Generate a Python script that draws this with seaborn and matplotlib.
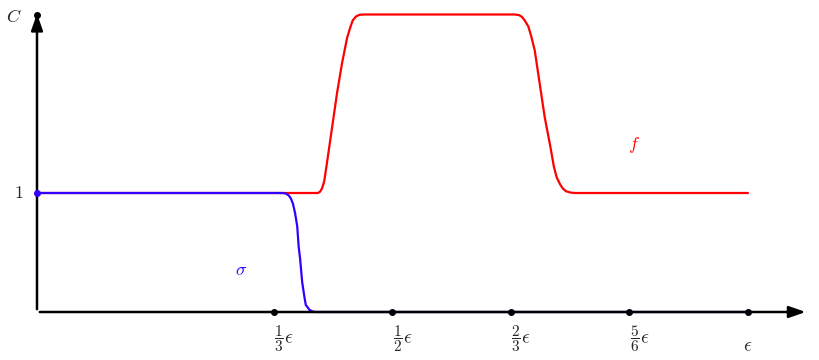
import numpy as np
import pandas as pd
import matplotlib
matplotlib.use("Agg")
import matplotlib.pyplot as plt
import seaborn as sns

# values, x in units of epsilon
f_x = [0.0, 0.391, 0.395, 0.398, 0.401, 0.404, 0.408, 0.415, 0.422, 0.429, 0.436, 0.440,
       0.444, 0.449, 0.454, 0.460,
       0.672, 0.678, 0.682, 0.686, 0.691, 0.695, 0.700, 0.707, 0.714, 0.722, 0.727,
       0.731, 0.736, 0.740, 0.744, 0.750, 0.757, 1.0]
f_y = [1.0, 1.0, 1.0, 1.01, 1.04, 1.10, 1.26, 1.55, 1.84, 2.09, 2.30, 2.38,
       2.45, 2.485, 2.498, 2.5,
       2.5, 2.495, 2.48, 2.45, 2.40, 2.32, 2.20, 1.92, 1.64, 1.39, 1.22,
       1.13, 1.07, 1.035, 1.015, 1.004, 1.0, 1.0]

sigma_x = [0.0, 0.346, 0.350, 0.354, 0.357, 0.360, 0.363, 0.366, 0.368, 0.370, 0.373,
           0.376, 0.378, 0.383, 0.387, 0.392, 1.0]
sigma_y = [1.0, 1.0, 0.995, 0.98, 0.955, 0.91, 0.83, 0.72, 0.55, 0.45, 0.25,
           0.13, 0.06, 0.02, 0.005, 0.0, 0.0]

tick_pos = [1 / 3, 1 / 2, 2 / 3, 5 / 6, 1.0]
tick_fracs = [r"$\dfrac{1}{3}$", r"$\dfrac{1}{2}$", r"$\dfrac{2}{3}$", r"$\dfrac{5}{6}$", ""]

red = "#ff0000"
blue = "#3300ff"

sns.set_style("white")
plt.rcParams["mathtext.fontset"] = "cm"

fig = plt.figure(figsize=(8.2, 3.6), dpi=100)
ax = fig.add_axes([0, 0, 1, 1])
ax.set_xlim(-37 / 711, 783 / 711)
ax.set_ylim(-48 / 119, 312 / 119)
ax.axis("off")

# axes with arrow heads
ax.annotate("", xy=(1.085, 0), xytext=(0, 0),
            arrowprops=dict(arrowstyle="-|>,head_length=1.0,head_width=0.35", color="black", lw=1.8))
ax.annotate("", xy=(0, 2.53), xytext=(0, 0),
            arrowprops=dict(arrowstyle="-|>,head_length=1.0,head_width=0.35", color="black", lw=1.8))
ax.plot([0], [2.5], "o", color="black", ms=4)

# curves
sns.lineplot(x=f_x, y=f_y, color=red, lw=1.6, ax=ax, sort=False)
sns.lineplot(x=sigma_x, y=sigma_y, color=blue, lw=1.6, ax=ax, sort=False)

# tick dots and labels
ax.plot(tick_pos, [0] * len(tick_pos), "o", color="black", ms=4, zorder=5)
for p, frac in zip(tick_pos, tick_fracs):
    if frac:
        ax.text(p + 5 / 711, -0.22, frac, ha="center", va="center", fontsize=11)
        ax.text(p + 15 / 711, -0.22, r"$\epsilon$", ha="center", va="center", fontsize=14)
    else:
        ax.text(p, -0.28, r"$\epsilon$", ha="center", va="center", fontsize=14)

ax.plot([0], [1], "o", color=blue, ms=4, zorder=5)
ax.text(-0.019, 1.0, "$1$", ha="right", va="center", fontsize=13)
ax.text(-0.022, 2.48, "$C$", ha="right", va="center", fontsize=13)

ax.text((634 - 37) / 711, (312 - 145) / 119, "$f$", color=red, ha="center", va="center", fontsize=13)
ax.text((241 - 37) / 711, (312 - 270) / 119, r"$\sigma$", color=blue, ha="center", va="center", fontsize=13)

fig.savefig("out.png", dpi=100)
